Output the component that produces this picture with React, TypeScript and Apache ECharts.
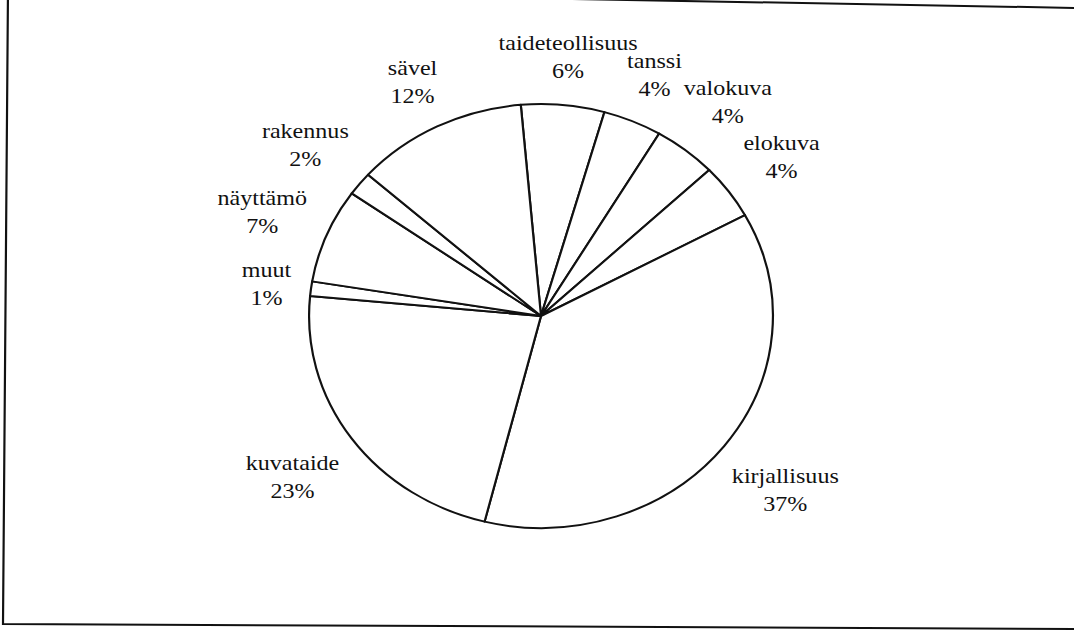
import { useEffect, useRef } from 'react';
import * as echarts from 'echarts';

// Data (shares in %, clockwise from the top)
const categories = ['taideteollisuus', 'tanssi', 'valokuva', 'elokuva', 'kirjallisuus', 'kuvataide', 'muut', 'näyttämö', 'rakennus', 'sävel'];
const shares = [5.8, 4.1, 4.4, 4.2, 36.8, 22.6, 1.1, 7.2, 1.8, 12.0];

// The scanned original is stretched horizontally; reproduce with a scaleX on the container
const SX = 1.094;
const PAGE_W = 1074;
const PAGE_H = 637;
const LOCAL_W = PAGE_W / SX;
const CX = 541 / SX;
const CY = 316;
const R = 212;
const START_ANGLE = 95; // echarts degrees (counter-clockwise from 3 o'clock)
const GAP = 15;

export default function App() {
  const ref = useRef<HTMLDivElement>(null);
  useEffect(() => {
    if (!ref.current) return;
    const chart = echarts.init(ref.current, undefined, { renderer: 'svg', width: LOCAL_W, height: PAGE_H });
    const total = shares.reduce((a, b) => a + b, 0);
    const fromTop = 90 - START_ANGLE;
    const L = (x: number) => x / SX;
    chart.setOption({
      animation: false,
      backgroundColor: '#ffffff',
      graphic: [
        {
          type: 'polyline',
          silent: true,
          shape: { points: [[L(1080), 8], [L(8), -11], [L(3), 624], [L(1080), 629]] },
          style: { stroke: '#111', lineWidth: 2, fill: null },
        },
      ],
      series: [
        {
          type: 'pie',
          center: [CX, CY],
          radius: R,
          startAngle: START_ANGLE,
          clockwise: true,
          avoidLabelOverlap: false,
          percentPrecision: 0,
          silent: true,
          emphasis: { disabled: true },
          itemStyle: { color: '#ffffff', borderColor: '#111', borderWidth: 2 },
          label: {
            show: true,
            position: 'outside',
            formatter: '{b}\n{d}%',
            fontFamily: 'serif',
            fontSize: 22,
            lineHeight: 28,
            color: '#111',
          },
          labelLine: { show: false },
          labelLayout: (p: any) => {
            const i = p.dataIndex;
            let before = 0;
            for (let k = 0; k < i; k++) before += shares[k];
            const mid = (fromTop + ((before + shares[i] / 2) / total) * 360) * Math.PI / 180;
            const ux = Math.sin(mid);
            const uy = -Math.cos(mid);
            const w = p.labelRect.width;
            const h = p.labelRect.height;
            const d = R + GAP + Math.abs(ux) * w / 2 + Math.abs(uy) * h / 2;
            return { x: CX + ux * d, y: CY + uy * d, align: 'center', verticalAlign: 'middle' };
          },
          data: categories.map((name, i) => ({ name, value: shares[i] })),
        },
      ],
    });
    return () => chart.dispose();
  }, []);
  return (
    <div
      style={{
        position: 'absolute',
        left: 0,
        top: 0,
        width: PAGE_W,
        height: PAGE_H,
        overflow: 'hidden',
        background: '#fff',
      }}
    >
      <div
        ref={ref}
        style={{
          width: LOCAL_W,
          height: PAGE_H,
          transform: `scaleX(${SX})`,
          transformOrigin: '0 0',
        }}
      />
    </div>
  );
}
